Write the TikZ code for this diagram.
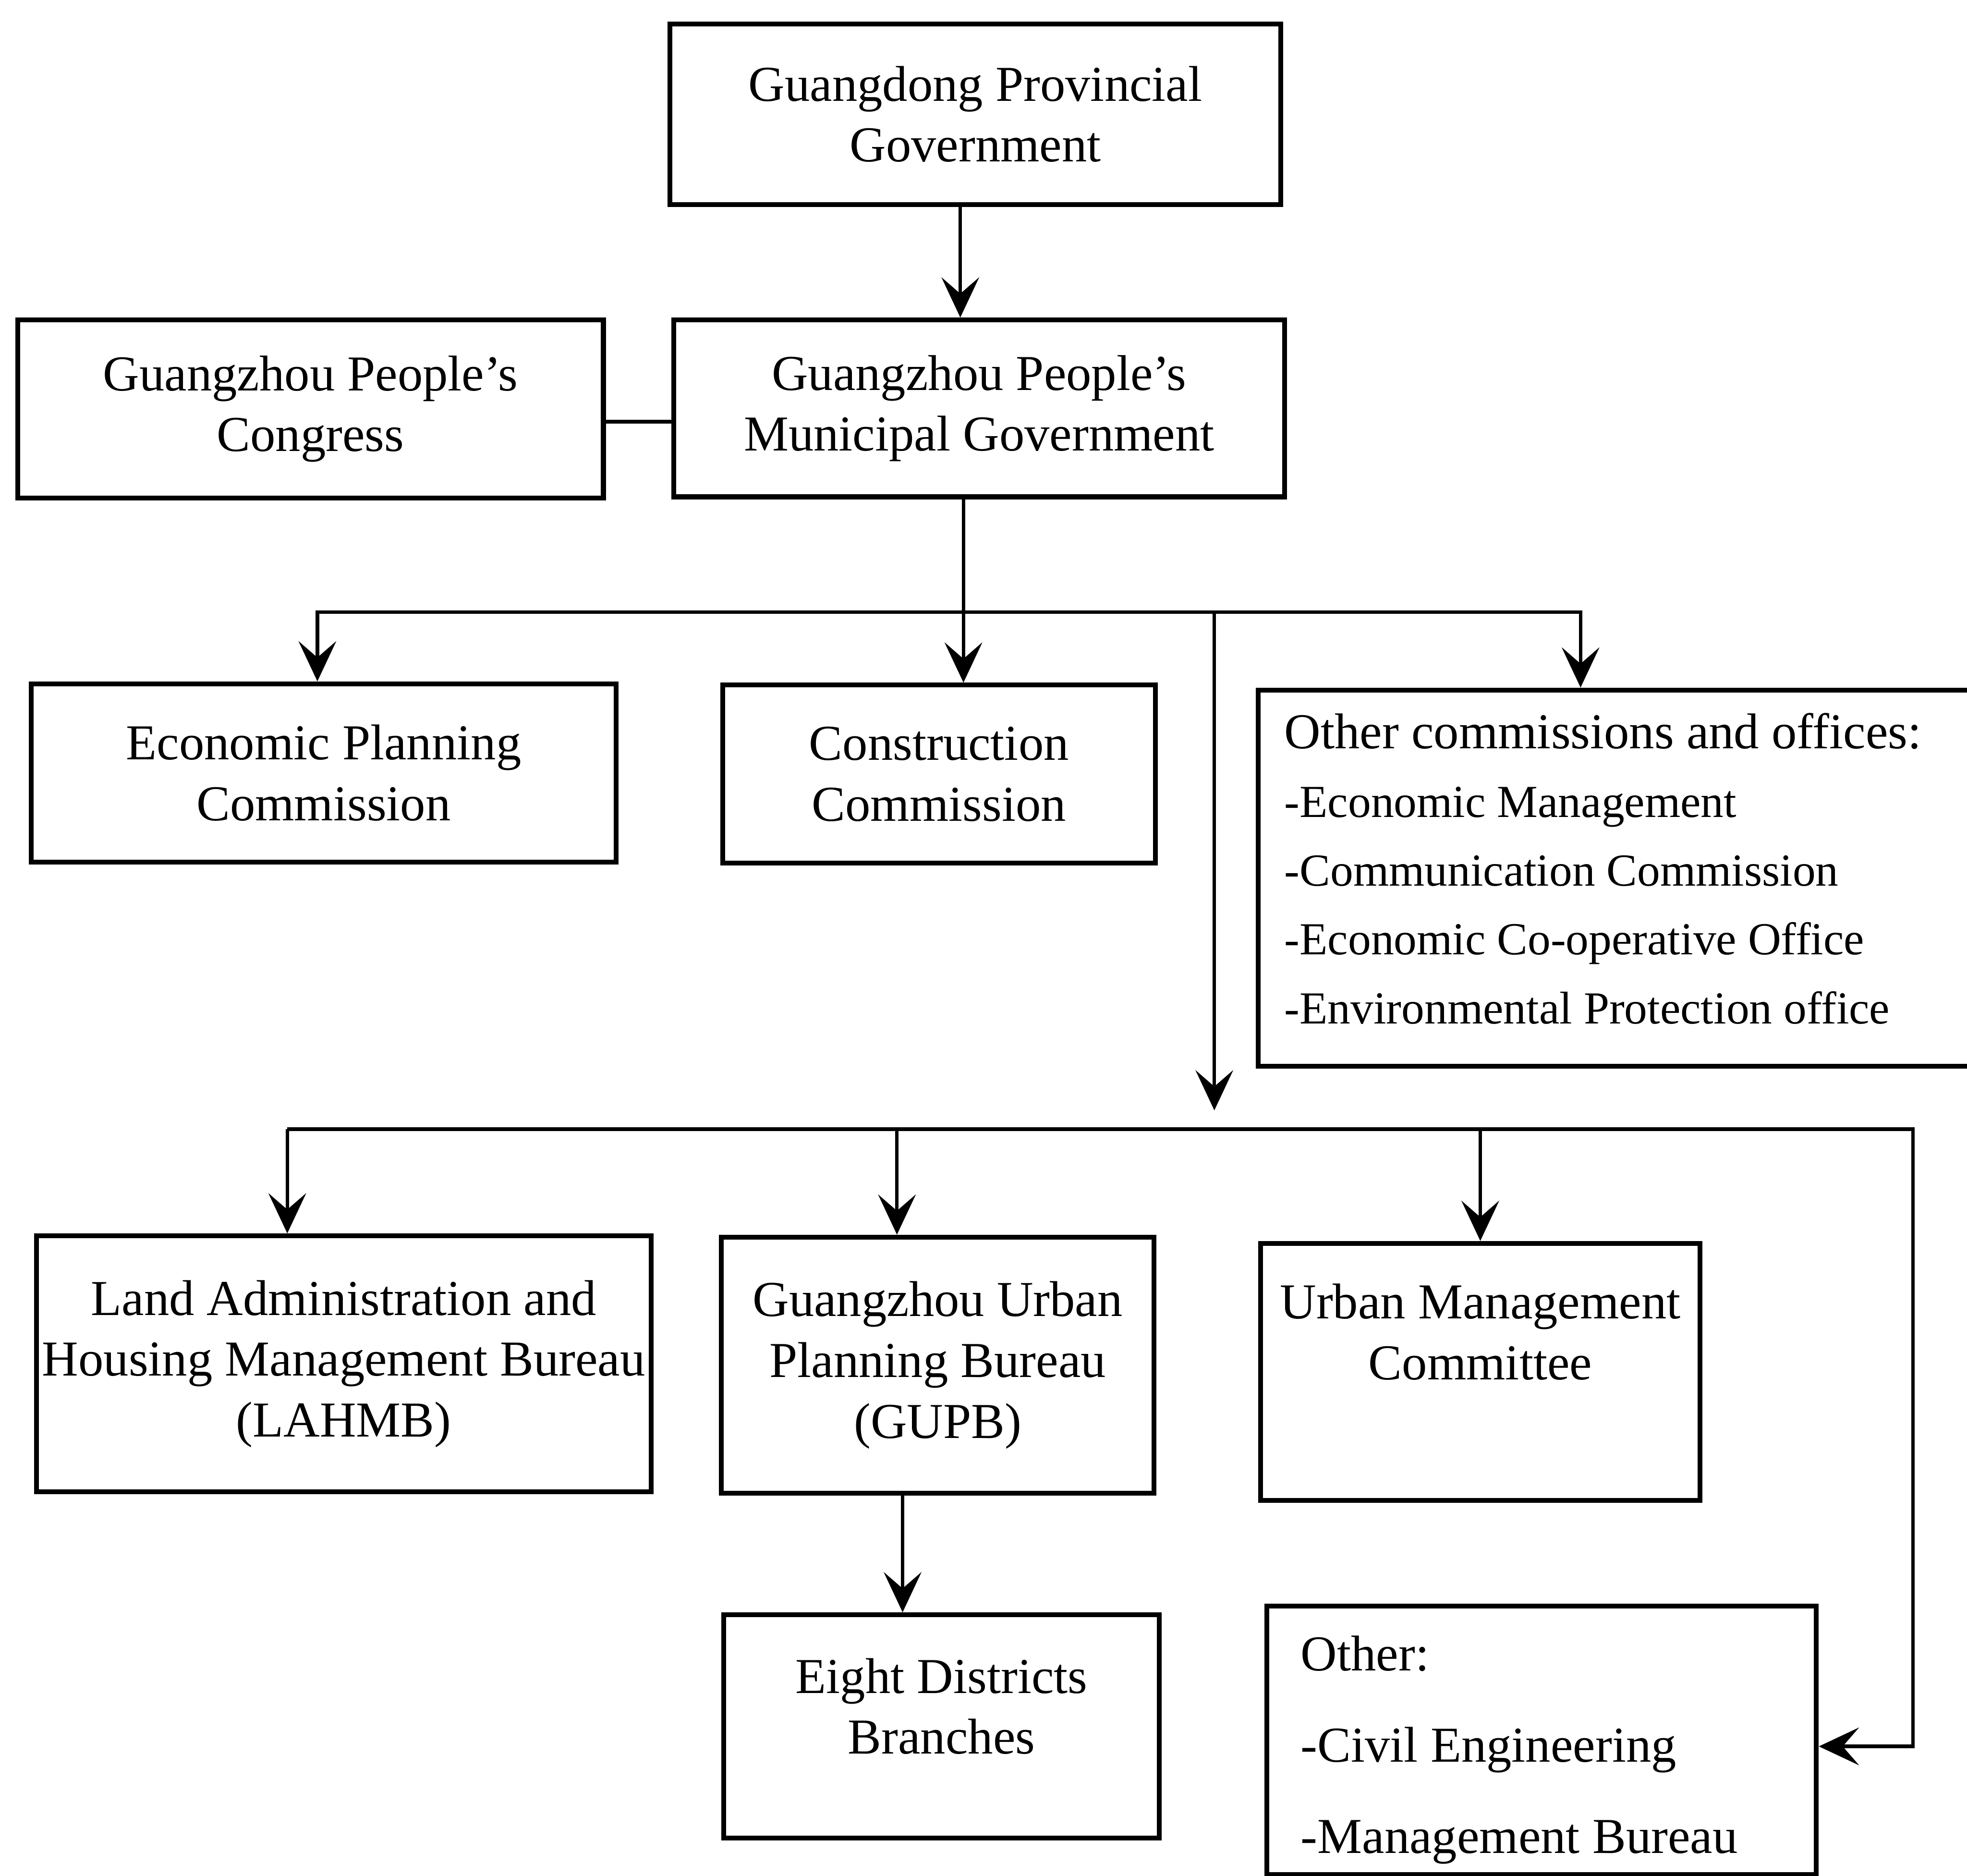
\documentclass[tikz,border=0pt]{standalone}
\usepackage{fontspec}
\setmainfont{Liberation Serif}
\usetikzlibrary{positioning, arrows.meta, calc}

\begin{document}
\begin{tikzpicture}[
    >=Stealth, % filled barbed tips as in the scan
    box/.style={
        rectangle,
        draw,
        line width=1.1pt,
        align=center,
        inner sep=0pt,
        font=\fontsize{11.4}{13.8}\selectfont
    },
    listbox/.style={
        box,
        anchor=north west,
        align=flush left
    },
    arrow/.style={
        -{Stealth[length=3.2mm, width=3mm, inset=1.3mm]},
        line width=0.8pt
    },
    link/.style={
        line width=0.9pt
    }
]
    \useasboundingbox (0,0) rectangle (15.68,-14.95);
    \clip (0,0) rectangle (15.68,-14.95);

    % Province and city
    \node[box, minimum width=4.87cm, minimum height=1.44cm] (prov) at (7.775,-0.91) {Guangdong Provincial\\Government};
    \node[box, minimum width=4.87cm, minimum height=1.41cm] (muni) at (7.805,-3.255) {Guangzhou People's\\Municipal Government};
    \node[box, minimum width=4.67cm, minimum height=1.42cm] (congress) at (2.475,-3.26) {Guangzhou People's\\Congress};

    % Commissions
    \node[box, minimum width=4.66cm, minimum height=1.42cm] (econ) at (2.58,-6.16) {Economic Planning\\Commission};
    \node[box, minimum width=3.45cm, minimum height=1.42cm] (constr) at (7.485,-6.17) {Construction\\Commission};
    \node[listbox, text width=5.38cm, inner xsep=0.21cm, minimum height=3.0cm,
          font=\fontsize{10.4}{15.6}\selectfont] (others) at (10.01,-5.48)
        {{\fontsize{11.4}{15.6}\selectfont Other commissions and offices:}\\
         -Economic Management\\
         -Communication Commission\\
         -Economic Co-operative Office\\
         -Environmental Protection office\\[-11.1pt]\mbox{}};

    % Bureaus
    \node[box, minimum width=4.90cm, minimum height=2.04cm] (lahmb) at (2.74,-10.87) {Land Administration and\\Housing Management Bureau\\(LAHMB)};
    \node[box, minimum width=3.45cm, minimum height=2.04cm] (gupb) at (7.475,-10.88) {Guangzhou Urban\\Planning Bureau\\(GUPB)};
    \node[box, minimum width=3.50cm, minimum height=2.05cm] (urban) at (11.80,-10.935) {Urban Management\\Committee\\[4.5pt]\mbox{}};
    \node[box, minimum width=3.47cm, minimum height=1.78cm] (eight) at (7.505,-13.76) {Eight Districts\\Branches\\[-4.6pt]\mbox{}};
    \node[listbox, text width=3.84cm, inner xsep=0.27cm, minimum height=2.14cm] (other2) at (10.08,-12.78)
        {\rule{0pt}{12.3pt}Other:\\[6.9pt]
         -Civil Engineering\\[6.9pt]
         -Management Bureau};

    % Bus lines
    \coordinate (split) at (7.68,-4.88);
    \coordinate (drop) at (9.68,-4.88);
    \coordinate (dropend) at (9.68,-8.85);
    \coordinate (bus2w) at (2.29,-9.0);
    \coordinate (b2g) at (7.15,-9.0);
    \coordinate (bus2e) at (15.25,-9.0);

    \draw[arrow] ([xshift=-0.12cm]prov.south) -- ([xshift=-0.12cm]prov.south |- muni.north);
    \draw[link] ([yshift=-0.1cm]congress.east) -- ([yshift=-0.1cm]congress.east -| muni.west);

    \draw[arrow] (muni.south -| split) -- (split |- constr.north);
    \draw[arrow] (split) -| ([xshift=-0.05cm]econ.north);
    \draw[arrow] (split) -| ([xshift=-0.33cm]others.north);
    \draw[arrow] (drop) -- (dropend);

    \draw[arrow] (bus2w) -- (bus2e) |- ([yshift=-0.05cm]other2.east);
    \draw[arrow] (bus2w) -- (bus2w |- lahmb.north);
    \draw[arrow] (b2g) -- (b2g |- gupb.north);
    \draw[arrow] (urban.north |- bus2w) -- (urban.north);

    \draw[arrow] ([xshift=-0.28cm]gupb.south) -- ([xshift=-0.28cm]gupb.south |- eight.north);
\end{tikzpicture}
\end{document}
